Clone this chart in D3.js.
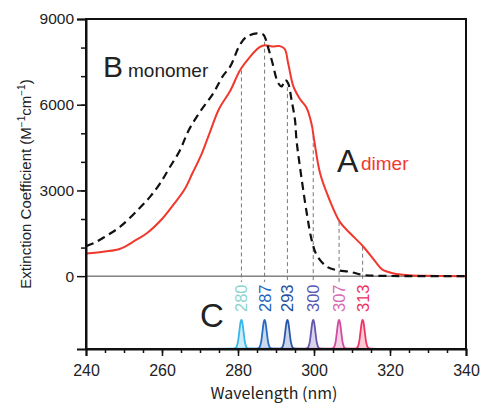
<!DOCTYPE html>
<meta charset="utf-8">
<style>
body { margin: 0; background: #fff; font-family: "Liberation Sans", Arial, sans-serif; }
.axis path, .axis line { fill: none; stroke: #111; }
.axis text { fill: #222; }
</style>
<body>
<script src="https://cdn.jsdelivr.net/npm/d3@7"></script>
<script>
// dimer (A, red) spectrum
var dimerWl  = [240, 245, 249, 253, 256, 260, 263, 266, 268, 270.5, 272.5, 275, 278, 280.5, 283, 285.5, 287, 289, 291, 292.3, 293.2, 294.6, 296.3, 298, 299.4, 300, 301.6, 304, 306.8, 309.5, 313, 316.5, 318, 321, 325, 330, 340];
var dimerEps = [790, 860, 960, 1250, 1500, 2000, 2500, 3050, 3600, 4300, 5000, 5850, 6500, 7200, 7650, 8000, 8080, 8040, 8050, 7950, 7450, 6630, 6200, 5900, 5300, 4800, 3600, 2700, 1900, 1500, 1030, 450, 230, 95, 35, 10, 0];

// monomer (B, dashed black) spectrum
var monoWl  = [240, 242, 245, 249, 254, 257, 259.5, 262, 264.7, 267, 270, 273.5, 276, 278, 280.5, 282.3, 285, 286.7, 287.7, 288.9, 290.6, 291.5, 292.4, 293.2, 294.1, 295, 295.4, 296.3, 298.1, 299.4, 300.7, 303.4, 306, 309.5, 313, 318, 340];
var monoEps = [1050, 1150, 1380, 1730, 2370, 2800, 3250, 3800, 4400, 5100, 5750, 6400, 7000, 7350, 8100, 8380, 8500, 8450, 8100, 7550, 6750, 6640, 6870, 6750, 6160, 5460, 4760, 3830, 2200, 1260, 740, 330, 210, 150, 40, 10, 0];

// C: light source lines
var lineNames   = ["280", "287", "293", "300", "307", "313"];
var lineCenters = [280.9, 287, 293, 299.8, 306.6, 312.8];
var lineTops    = [7200, 8450, 6860, 4900, 1900, 1030];
var lineStroke  = ["#36b6ea", "#2a6cc0", "#2a58a8", "#6656b0", "#d04ca0", "#f03464"];
var labelColor  = ["#8fd4d0", "#1e64c0", "#1e4ea0", "#5a58b4", "#d86ab0", "#ee3060"];
// shared peak shape: offset (nm) and relative height
var peakOffset = [-11, -2, -1.5, -1.2, -0.9, -0.65, -0.4, -0.2, 0, 0.2, 0.4, 0.65, 0.9, 1.2, 1.5, 2, 7];
var peakRel    = [0, 0.01, 0.03, 0.1, 0.25, 0.5, 0.77, 0.94, 1, 0.94, 0.77, 0.5, 0.25, 0.1, 0.03, 0.01, 0];
var peakHeight = 1020;

var xTicks = [240, 260, 280, 300, 320, 340];
var yTicks = [0, 3000, 6000, 9000];

var margin = {top: 19, right: 15, bottom: 57, left: 86},
    width = 481 - margin.left - margin.right,
    height = 406 - margin.top - margin.bottom;

var x = d3.scaleLinear().domain([240, 340]).range([0, width]);
var y = d3.scaleLinear().domain([-2550, 9000]).range([height, 0]);

var svg = d3.select("body").append("svg")
    .attr("width", 481)
    .attr("height", 406)
  .append("g")
    .attr("transform", "translate(" + margin.left + "," + margin.top + ")");

// zero line
svg.append("line")
    .attr("x1", 0).attr("x2", width)
    .attr("y1", y(0)).attr("y2", y(0))
    .attr("stroke", "#444").attr("stroke-width", 1);

// dashed drop lines
svg.selectAll(".drop")
    .data(lineCenters)
  .enter().append("line")
    .attr("class", "drop")
    .attr("x1", function(d) { return x(d); })
    .attr("x2", function(d) { return x(d); })
    .attr("y1", function(d, i) { return y(lineTops[i]); })
    .attr("y2", 263)
    .attr("stroke", "#777")
    .attr("stroke-width", 1)
    .attr("stroke-dasharray", "4,3");

// peaks
var base = y.domain()[0];
lineCenters.forEach(function(c, i) {
  var pts = peakOffset.map(function(o, j) { return [c + o, base + peakRel[j] * peakHeight]; });
  var area = d3.area()
      .x(function(d) { return x(d[0]); })
      .y0(y(base))
      .y1(function(d) { return y(d[1]); })
      .curve(d3.curveMonotoneX);
  var line = d3.line()
      .x(function(d) { return x(d[0]); })
      .y(function(d) { return y(d[1]); })
      .curve(d3.curveMonotoneX);
  svg.append("path").datum(pts)
      .attr("d", area)
      .attr("fill", lineStroke[i])
      .attr("fill-opacity", 0.25);
  svg.append("path").datum(pts)
      .attr("d", line)
      .attr("fill", "none")
      .attr("stroke", lineStroke[i])
      .attr("stroke-width", 1.8);
});

// peak labels
svg.selectAll(".wl")
    .data(lineNames)
  .enter().append("text")
    .attr("class", "wl")
    .attr("transform", function(d, i) { return "translate(" + (x(lineCenters[i]) + 6) + ",293) rotate(-90)"; })
    .style("font-size", "16.5px")
    .attr("fill", function(d, i) { return labelColor[i]; })
    .text(function(d) { return d; });

// spectra
var dimer = dimerWl.map(function(d, i) { return [d, dimerEps[i]]; });
var mono = monoWl.map(function(d, i) { return [d, monoEps[i]]; });
var spec = d3.line()
    .x(function(d) { return x(d[0]); })
    .y(function(d) { return y(d[1]); })
    .curve(d3.curveCatmullRom.alpha(0.5));

svg.append("path").datum(dimer)
    .attr("d", spec)
    .attr("fill", "none")
    .attr("stroke", "#f0382e")
    .attr("stroke-width", 2);

svg.append("path").datum(mono)
    .attr("d", spec)
    .attr("fill", "none")
    .attr("stroke", "#111")
    .attr("stroke-width", 2.2)
    .attr("stroke-dasharray", "8,5");

// frame
svg.append("rect")
    .attr("width", width).attr("height", height)
    .attr("fill", "none").attr("stroke", "#111").attr("stroke-width", 2);

// axes
svg.append("g")
    .attr("class", "x axis")
    .attr("transform", "translate(0," + height + ")")
    .call(d3.axisBottom(x).tickValues(d3.range(245, 340, 5)).tickSize(4).tickFormat(""))
    .call(function(g) { g.select(".domain").remove(); })
    .selectAll("line").attr("stroke-width", 1.5);

svg.append("g")
    .attr("class", "x axis")
    .attr("transform", "translate(0," + height + ")")
    .call(d3.axisBottom(x).tickValues(xTicks).tickSize(7).tickPadding(9))
    .call(function(g) {
      g.select(".domain").attr("stroke-width", 2);
      g.selectAll("line").attr("stroke-width", 1.5);
      g.selectAll("text").style("font-size", "16px").style("font-family", "Liberation Sans");
    });

svg.append("g")
    .attr("class", "y axis")
    .call(d3.axisLeft(y).tickValues(d3.range(1000, 9000, 1000)).tickSize(5).tickFormat(""))
    .call(function(g) { g.select(".domain").remove(); })
    .selectAll("line").attr("stroke-width", 1.5);

svg.append("g")
    .attr("class", "y axis")
    .call(d3.axisLeft(y).tickValues(yTicks).tickSize(9).tickPadding(3).tickFormat(d3.format("d")))
    .call(function(g) {
      g.select(".domain").attr("stroke-width", 2);
      g.selectAll("line").attr("stroke-width", 1.5);
      g.selectAll("text").style("font-size", "15.5px").style("font-family", "Liberation Sans");
    });

// axis titles
svg.append("text")
    .attr("x", 188)
    .attr("y", 380)
    .attr("text-anchor", "middle")
    .style("font-family", "'Noto Sans CJK JP'")
    .style("font-size", "16px")
    .attr("fill", "#222")
    .text("Wavelength (nm)");

var yl = svg.append("text")
    .attr("transform", "translate(-55," + (height / 2) + ") rotate(-90)")
    .attr("text-anchor", "middle")
    .style("font-size", "15px")
    .attr("fill", "#222");
yl.append("tspan").text("Extinction Coefficient (M");
yl.append("tspan").attr("dy", -6).style("font-size", "10px").text("\u22121");
yl.append("tspan").attr("dy", 6).text("cm");
yl.append("tspan").attr("dy", -6).style("font-size", "10px").text("\u22121");
yl.append("tspan").attr("dy", 6).text(")");

// panel letters
svg.append("text").attr("x", 17).attr("y", 58).style("font-size", "30px").attr("fill", "#222").text("B");
svg.append("text").attr("x", 42).attr("y", 58).style("font-size", "19px").attr("fill", "#222").text("monomer");
svg.append("text").attr("x", 251).attr("y", 153).style("font-size", "32px").attr("fill", "#222").text("A");
svg.append("text").attr("x", 275).attr("y", 151).style("font-size", "19px").attr("fill", "#f0382e").text("dimer");
svg.append("text").attr("x", 114).attr("y", 308).style("font-size", "33px").attr("fill", "#222").text("C");
</script>
</body>
</html>
